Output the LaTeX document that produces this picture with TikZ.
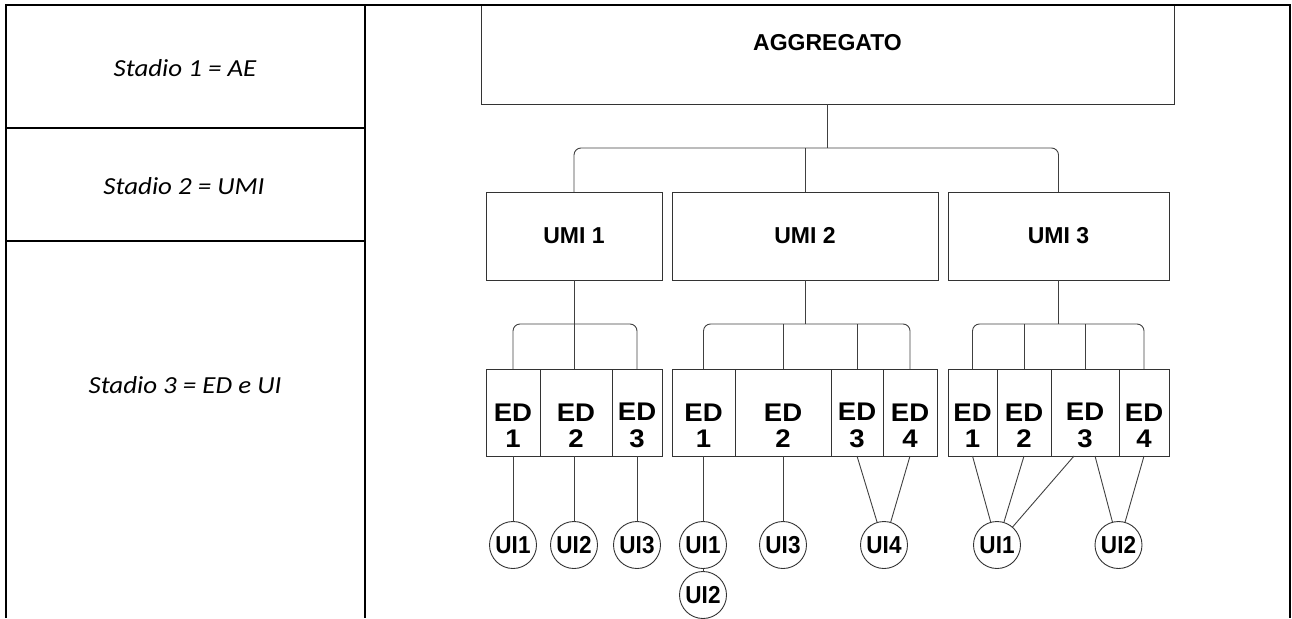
\documentclass[tikz,border=0pt]{standalone}
\usepackage{fontspec}
\setmainfont{Liberation Sans}
\newfontfamily\diafont{Liberation Sans}
\newfontfamily\edfont[FakeStretch=1.08]{Liberation Sans}
\newfontfamily\uifont[FakeStretch=0.92]{Liberation Sans}
\newfontfamily\stagefont[FakeStretch=1.1]{Carlito}
\begin{document}
\begin{tikzpicture}[x=1pt,y=-1pt,
  frame/.style={line width=2.6pt,black,line join=miter},
  box/.style={draw=black!80,line width=0.9pt,rectangle,inner sep=0pt,outer sep=0pt},
  link/.style={draw=black!75,line width=0.9pt},
  tree/.style={link,rounded corners=7pt},
  stage/.style={font=\stagefont\itshape\fontsize{24.5}{28}\selectfont,inner sep=0pt},
  aggtext/.style={font=\diafont\bfseries\fontsize{23}{26}\selectfont,inner sep=0pt,yshift=12pt},
  umibox/.style={box,minimum height=88pt,font=\diafont\bfseries\fontsize{23}{26}\selectfont},
  edbox/.style={box,minimum height=87pt},
  edtext/.style={font=\edfont\bfseries\fontsize{25.5}{26.5}\selectfont,align=center,inner sep=0pt,yshift=-13pt},
  uinode/.style={circle,draw=black!80,line width=0.9pt,minimum size=47pt,inner sep=0pt,outer sep=0pt,
    font=\uifont\bfseries\fontsize{24.5}{26}\selectfont}
]
\useasboundingbox (0,0) rectangle (1292,618);

% top level box
\node[box,minimum width=693pt,minimum height=99pt,label={[aggtext]center:AGGREGATO}] (agg) at (827.5,54.5) {};

% stage table
\draw[frame] (6,618) -- (6,5) -- (1290,5) -- (1290,618);
\draw[frame] (365,5) -- (365,618);
\draw[frame] (6,128) -- (365,128);
\draw[frame] (6,241) -- (365,241);

\node[stage] (s1) at (185,68) {Stadio 1 = AE};
\node[stage] (s2) at (184,186) {Stadio 2 = UMI};
\node[stage] (s3) at (185,385) {Stadio 3 = ED e UI};

% UMI level
\node[umibox,minimum width=176pt] (umi1) at (574,236) {UMI 1};
\node[umibox,minimum width=266pt] (umi2) at (805,236) {UMI 2};
\node[umibox,minimum width=221pt] (umi3) at (1058.5,236) {UMI 3};

% ED level
\node[edbox,minimum width=54pt,label={[edtext]center:ED\\1}] (e11) at (513,412.5) {};
\node[edbox,minimum width=72pt,label={[edtext]center:ED\\2}] (e12) at (576,412.5) {};
\node[edbox,minimum width=50pt,label={[edtext]center:ED\\3}] (e13) at (637,412.5) {};

\node[edbox,minimum width=63pt,label={[edtext]center:ED\\1}] (e21) at (703.5,412.5) {};
\node[edbox,minimum width=96pt,label={[edtext]center:ED\\2}] (e22) at (783,412.5) {};
\node[edbox,minimum width=52pt,label={[edtext]center:ED\\3}] (e23) at (857,412.5) {};
\node[edbox,minimum width=54pt,label={[edtext]center:ED\\4}] (e24) at (910,412.5) {};

\node[edbox,minimum width=49pt,label={[edtext]center:ED\\1}] (e31) at (972.5,412.5) {};
\node[edbox,minimum width=54pt,label={[edtext]center:ED\\2}] (e32) at (1024,412.5) {};
\node[edbox,minimum width=68pt,label={[edtext]center:ED\\3}] (e33) at (1085,412.5) {};
\node[edbox,minimum width=50pt,label={[edtext]center:ED\\4}] (e34) at (1144,412.5) {};

% UI level
\node[uinode] (u11) at (513,545) {UI1};
\node[uinode] (u12) at (574,545) {UI2};
\node[uinode] (u13) at (637,545) {UI3};
\node[uinode] (u21) at (703,545) {UI1};
\node[uinode] (u22) at (703,595) {UI2};
\node[uinode] (u23) at (783,545) {UI3};
\node[uinode] (u24) at (884,545) {UI4};
\node[uinode] (u31) at (997,545) {UI1};
\node[uinode] (u32) at (1118.5,545) {UI2};

% aggregate to UMI
\coordinate (topbar) at (0,148);
\draw[link] (agg.south) -- (agg.south |- topbar);
\draw[tree] (umi1.north) -- (umi1.north |- topbar) -- (umi3.north |- topbar) -- (umi3.north);
\draw[link] (umi2.north) -- (umi2.north |- topbar);

% UMI to ED
\coordinate (midbar) at (0,324);
\draw[link] (umi1.south) -- (umi1.south |- e12.north);
\draw[tree] (e11.north) -- (e11.north |- midbar) -- (e13.north |- midbar) -- (e13.north);

\draw[link] (umi2.south) -- (umi2.south |- midbar);
\draw[tree] (e21.north) -- (e21.north |- midbar) -- (e24.north |- midbar) -- (e24.north);
\draw[link] (e22.north) -- (e22.north |- midbar);
\draw[link] (e23.north) -- (e23.north |- midbar);

\draw[link] (umi3.south) -- (umi3.south |- midbar);
\draw[tree] (e31.north) -- (e31.north |- midbar) -- (e34.north |- midbar) -- (e34.north);
\draw[link] (e32.north) -- (e32.north |- midbar);
\draw[link] (e33.north) -- (e33.north |- midbar);

% ED to UI
\draw[link] (u11.north) -- (u11.north |- e11.south);
\draw[link] (u12.north) -- (u12.north |- e12.south);
\draw[link] (u13.north) -- (u13.north |- e13.south);
\draw[link] (u21.north) -- (u21.north |- e21.south);
\draw[link] (u21.south) -- (u22.north);
\draw[link] (u23.north) -- (u23.north |- e22.south);
\draw[link] (e23.south) -- (u24);
\draw[link] (e24.south) -- (u24);
\draw[link] (e31.south) -- (u31);
\draw[link] (e32.south) -- (u31);
\draw[link] ([xshift=-11pt]e33.south) -- (u31);
\draw[link] ([xshift=10pt]e33.south) -- (u32);
\draw[link] (e34.south) -- (u32);
\end{tikzpicture}
\end{document}
